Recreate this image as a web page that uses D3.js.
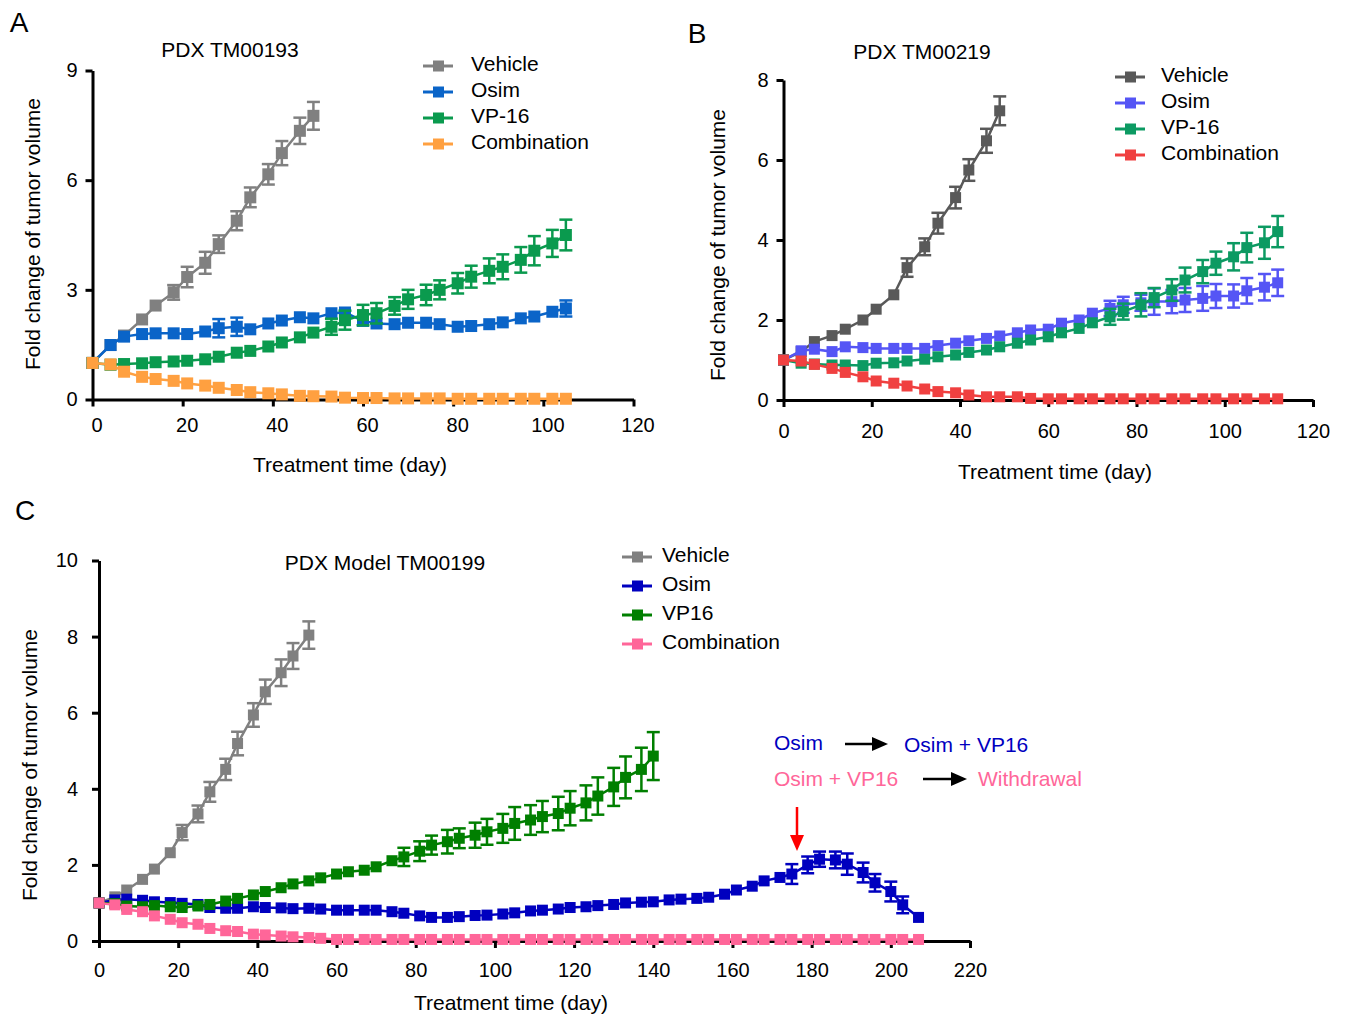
<!DOCTYPE html>
<meta charset="utf-8">
<head>
    <style>
        body { margin: 0; background: #fff; }
        text { font-family: "Liberation Sans", Arial, sans-serif; }
    </style>
</head>

<body>
    <svg id="fig" width="1345" height="1019"></svg>

    <script src="https://d3js.org/d3.v7.min.js"></script>

    <script>
        // measurement days (same schedule for every model)
        let treatmentDays = [0, 4, 7, 11, 14, 18, 21, 25, 28, 32,
            35, 39, 42, 46, 49, 53, 56, 60, 63, 67,
            70, 74, 77, 81, 84, 88, 91, 95, 98, 102,
            105, 109, 112, 116, 119, 123, 126, 130, 133, 137,
            140, 144, 147, 151, 154, 158, 161, 165, 168, 172,
            175, 179, 182, 186, 189, 193, 196, 200, 203, 207];

        let xTicks120 = [0, 20, 40, 60, 80, 100, 120];
        let xTicks220 = [0, 20, 40, 60, 80, 100, 120, 140, 160, 180, 200, 220];

        // ---- Panel A : PDX TM00193 ----
        let namesA = ['Vehicle', 'Osim', 'VP-16', 'Combination'];
        let vehicleA = [1.0, 1.49, 1.75, 2.19, 2.57, 2.93, 3.35, 3.74, 4.25, 4.89, 5.53, 6.16, 6.74, 7.35, 7.76];
        let vehicleAErr = [0, 0.05, 0.05, 0.08, 0.08, 0.2, 0.28, 0.3, 0.24, 0.26, 0.27, 0.28, 0.33, 0.36, 0.38];
        let osimA = [1.0, 1.49, 1.72, 1.79, 1.81, 1.81, 1.79, 1.86, 1.95, 1.99, 1.92, 2.08, 2.16, 2.25, 2.22, 2.36,
            2.38, 2.15, 2.08, 2.06, 2.10, 2.10, 2.06, 1.99, 2.01, 2.06, 2.11, 2.22, 2.27, 2.40, 2.49];
        let osimAErr = [0, 0.05, 0.05, 0.1, 0.08, 0.17, 0.1, 0.12, 0.25, 0.25, 0.12, 0.1, 0.1, 0.1, 0.08, 0.1,
            0.1, 0.12, 0.08, 0.08, 0.08, 0.08, 0.08, 0.08, 0.08, 0.08, 0.08, 0.08, 0.08, 0.15, 0.22];
        let vp16A = [1.0, 0.95, 0.97, 0.99, 1.02, 1.04, 1.06, 1.10, 1.17, 1.28, 1.33, 1.45, 1.56, 1.70, 1.83, 1.99,
            2.17, 2.31, 2.36, 2.56, 2.74, 2.86, 3.00, 3.18, 3.36, 3.52, 3.63, 3.82, 4.07, 4.27, 4.50];
        let vp16AErr = [0, 0.03, 0.03, 0.03, 0.04, 0.04, 0.05, 0.05, 0.06, 0.07, 0.08, 0.08, 0.1, 0.14, 0.16, 0.22,
            0.26, 0.28, 0.28, 0.24, 0.26, 0.28, 0.26, 0.28, 0.3, 0.34, 0.34, 0.35, 0.4, 0.37, 0.42];
        let comboA = [1.0, 0.96, 0.76, 0.62, 0.56, 0.51, 0.44, 0.38, 0.32, 0.26, 0.20, 0.17, 0.14, 0.10, 0.09, 0.08,
            0.05, 0.04, 0.04, 0.03, 0.03, 0.03, 0.03, 0.02, 0.02, 0.02, 0.02, 0.02, 0.02, 0.02, 0.02];

        // ---- Panel B : PDX TM00219 ----
        let namesB = ['Vehicle', 'Osim', 'VP-16', 'Combination'];
        let vehicleB = [1.0, 1.21, 1.46, 1.61, 1.77, 2.0, 2.27, 2.63, 3.31, 3.83, 4.42, 5.06, 5.75, 6.48, 7.23];
        let vehicleBErr = [0, 0.04, 0.05, 0.05, 0.06, 0.07, 0.08, 0.1, 0.23, 0.21, 0.26, 0.27, 0.27, 0.3, 0.36];
        let osimB = [1.0, 1.23, 1.27, 1.21, 1.33, 1.31, 1.29, 1.29, 1.29, 1.29, 1.36, 1.42, 1.48, 1.54, 1.60, 1.68,
            1.75, 1.77, 1.92, 2.0, 2.17, 2.29, 2.38, 2.43, 2.46, 2.46, 2.5, 2.54, 2.6, 2.6, 2.73, 2.82, 2.93];
        let osimBErr = [0, 0.04, 0.04, 0.05, 0.05, 0.05, 0.05, 0.05, 0.06, 0.06, 0.06, 0.07, 0.07, 0.07, 0.08, 0.08,
            0.08, 0.09, 0.1, 0.12, 0.14, 0.19, 0.2, 0.2, 0.33, 0.29, 0.3, 0.31, 0.3, 0.29, 0.32, 0.33, 0.33];
        let vp16B = [1.0, 0.92, 0.90, 0.875, 0.875, 0.86, 0.92, 0.93, 0.975, 1.02, 1.08, 1.125, 1.19, 1.25, 1.33, 1.42,
            1.5, 1.58, 1.68, 1.79, 1.93, 2.08, 2.21, 2.38, 2.56, 2.75, 3.0, 3.21, 3.42, 3.58, 3.81, 3.93, 4.21];
        let vp16BErr = [0, 0.03, 0.03, 0.03, 0.03, 0.04, 0.04, 0.04, 0.05, 0.05, 0.05, 0.05, 0.06, 0.06, 0.06, 0.07,
            0.07, 0.08, 0.08, 0.1, 0.13, 0.2, 0.2, 0.29, 0.24, 0.27, 0.31, 0.29, 0.29, 0.34, 0.37, 0.4, 0.39];
        let comboB = [1.0, 0.975, 0.89, 0.79, 0.69, 0.58, 0.475, 0.42, 0.35, 0.275, 0.21, 0.18, 0.125, 0.08, 0.08, 0.08,
            0.04, 0.03, 0.03, 0.03, 0.03, 0.03, 0.03, 0.03, 0.03, 0.03, 0.03, 0.03, 0.03, 0.03, 0.03, 0.03, 0.03];

        // ---- Panel C : PDX Model TM00199 ----
        let namesC = ['Vehicle', 'Osim', 'VP16', 'Combination'];
        let vehicleC = [1.0, 1.16, 1.34, 1.62, 1.89, 2.32, 2.85, 3.34, 3.92, 4.51, 5.19, 5.94, 6.55, 7.05, 7.49, 8.04];
        let vehicleCErr = [0, 0.04, 0.05, 0.05, 0.06, 0.1, 0.2, 0.22, 0.26, 0.28, 0.31, 0.31, 0.32, 0.35, 0.34, 0.36];
        let osimC = [1.0, 1.08, 1.10, 1.07, 1.03, 1.01, 0.99, 0.96, 0.88, 0.86,
            0.86, 0.90, 0.88, 0.87, 0.85, 0.86, 0.84, 0.81, 0.81, 0.81,
            0.81, 0.77, 0.73, 0.66, 0.62, 0.62, 0.64, 0.67, 0.68, 0.71,
            0.74, 0.79, 0.81, 0.84, 0.88, 0.90, 0.93, 0.96, 1.0, 1.02,
            1.03, 1.08, 1.10, 1.12, 1.15, 1.23, 1.34, 1.44, 1.58, 1.67,
            1.76, 2.0, 2.15, 2.13, 2.02, 1.80, 1.53, 1.30, 0.95, 0.62];
        let osimCErr = [0, 0.03, 0.03, 0.03, 0.03, 0.03, 0.03, 0.03, 0.03, 0.03,
            0.03, 0.03, 0.03, 0.03, 0.03, 0.03, 0.03, 0.03, 0.03, 0.03,
            0.04, 0.04, 0.04, 0.04, 0.04, 0.04, 0.04, 0.04, 0.04, 0.04,
            0.04, 0.04, 0.04, 0.04, 0.04, 0.04, 0.04, 0.04, 0.05, 0.05,
            0.05, 0.05, 0.05, 0.05, 0.06, 0.06, 0.07, 0.08, 0.08, 0.1,
            0.26, 0.22, 0.2, 0.22, 0.28, 0.26, 0.23, 0.26, 0.22, 0.06];
        let vp16C = [1.0, 0.98, 0.92, 0.90, 0.93, 0.90, 0.88, 0.92, 0.96, 1.05,
            1.12, 1.21, 1.30, 1.40, 1.50, 1.58, 1.66, 1.76, 1.82, 1.86,
            1.95, 2.11, 2.21, 2.36, 2.52, 2.61, 2.70, 2.78, 2.87, 2.96,
            3.09, 3.18, 3.27, 3.35, 3.49, 3.63, 3.81, 4.05, 4.30, 4.51, 4.86];
        let vp16CErr = [0, 0.02, 0.02, 0.03, 0.03, 0.03, 0.03, 0.04, 0.04, 0.05,
            0.05, 0.05, 0.06, 0.06, 0.07, 0.07, 0.08, 0.08, 0.08, 0.09,
            0.1, 0.12, 0.24, 0.26, 0.25, 0.31, 0.26, 0.33, 0.34, 0.38,
            0.43, 0.39, 0.41, 0.44, 0.45, 0.46, 0.49, 0.5, 0.55, 0.57, 0.63];
        let comboC = [1.0, 0.95, 0.83, 0.77, 0.66, 0.57, 0.48, 0.44, 0.33, 0.27,
            0.25, 0.18, 0.16, 0.13, 0.11, 0.09, 0.07, 0.04, 0.04, 0.04,
            0.04, 0.04, 0.04, 0.04, 0.04, 0.04, 0.04, 0.04, 0.04, 0.04,
            0.04, 0.04, 0.04, 0.04, 0.04, 0.04, 0.04, 0.04, 0.04, 0.04,
            0.04, 0.04, 0.04, 0.04, 0.04, 0.04, 0.04, 0.04, 0.04, 0.04,
            0.04, 0.04, 0.04, 0.04, 0.04, 0.04, 0.04, 0.04, 0.04, 0.04];

        let svg = d3.select('#fig');

        // Draw one panel
        function drawPanel(p) {
            let g = svg.append('g');
            let x = d3.scaleLinear().domain(p.xDomain).range(p.xRange);
            let y = d3.scaleLinear().domain(p.yDomain).range(p.yRange);
            let m = p.marker;

            // axes
            let xAxis = g.append('g')
                .attr('transform', `translate(0, ${p.yRange[0]})`)
                .call(d3.axisBottom(x).tickValues(p.xTicks).tickSize(7).tickPadding(p.xPad).tickSizeOuter(0));
            let yAxis = g.append('g')
                .attr('transform', `translate(${p.xRange[0]}, 0)`)
                .call(d3.axisLeft(y).tickValues(p.yTicks).tickSize(7).tickPadding(p.yPad).tickSizeOuter(0));
            [xAxis, yAxis].forEach(a => {
                a.attr('font-size', 20).attr('font-family', '"Liberation Sans", Arial, sans-serif');
                a.select('.domain').attr('stroke-width', 3);
                a.selectAll('.tick line').attr('stroke-width', 3);
                a.selectAll('.tick text').attr('fill', '#000');
            });
            xAxis.selectAll('.tick text').attr('dx', p.xLabelDx);

            // series
            p.series.forEach(s => {
                let pts = s.values.map((v, i) => ({ day: treatmentDays[i], v: v, e: s.err ? s.err[i] : 0 }));
                g.append('path')
                    .datum(pts)
                    .attr('d', d3.line().x(d => x(d.day)).y(d => y(d.v)))
                    .attr('fill', 'none')
                    .attr('stroke', s.color)
                    .attr('stroke-width', 2.5);

                let bars = g.selectAll(null)
                    .data(pts.filter(d => y(d.v) - y(d.v + d.e) > m / 2 + 1))
                    .enter().append('g')
                    .attr('stroke', s.color)
                    .attr('stroke-width', 2.5);
                bars.append('line')
                    .attr('x1', d => x(d.day)).attr('x2', d => x(d.day))
                    .attr('y1', d => y(d.v + d.e)).attr('y2', d => y(d.v - d.e));
                bars.append('line')
                    .attr('x1', d => x(d.day) - 6.5).attr('x2', d => x(d.day) + 6.5)
                    .attr('y1', d => y(d.v + d.e)).attr('y2', d => y(d.v + d.e));
                bars.append('line')
                    .attr('x1', d => x(d.day) - 6.5).attr('x2', d => x(d.day) + 6.5)
                    .attr('y1', d => y(d.v - d.e)).attr('y2', d => y(d.v - d.e));

                g.selectAll(null)
                    .data(pts)
                    .enter().append('rect')
                    .attr('x', d => x(d.day) - m / 2)
                    .attr('y', d => y(d.v) - m / 2)
                    .attr('width', m)
                    .attr('height', m)
                    .attr('fill', s.color);
            });

            // legend
            p.series.forEach((s, i) => {
                let ly = p.legend.y + i * p.legend.step;
                g.append('line')
                    .attr('x1', p.legend.x).attr('x2', p.legend.x + 30)
                    .attr('y1', ly).attr('y2', ly)
                    .attr('stroke', s.color).attr('stroke-width', 3);
                g.append('rect')
                    .attr('x', p.legend.x + 10).attr('y', ly - 5.5)
                    .attr('width', 11).attr('height', 11)
                    .attr('fill', s.color);
                g.append('text')
                    .attr('x', p.legend.x + p.legend.textDx).attr('y', ly - 2)
                    .attr('dy', '0.35em')
                    .attr('font-size', 21)
                    .text(s.name);
            });

            // titles
            g.append('text')
                .attr('x', p.title.x).attr('y', p.title.y)
                .attr('text-anchor', 'middle').attr('dy', '0.35em')
                .attr('font-size', 21)
                .text(p.title.text);
            g.append('text')
                .attr('x', p.xTitle.x).attr('y', p.xTitle.y)
                .attr('text-anchor', 'middle').attr('dy', '0.35em')
                .attr('font-size', 21)
                .text('Treatment time (day)');
            g.append('text')
                .attr('transform', `translate(${p.yTitle.x}, ${p.yTitle.y}) rotate(-90)`)
                .attr('text-anchor', 'middle').attr('dy', '0.35em')
                .attr('font-size', 21)
                .text('Fold change of tumor volume');
            g.append('text')
                .attr('x', p.letter.x).attr('y', p.letter.y)
                .attr('text-anchor', 'middle').attr('dy', '0.35em')
                .attr('font-size', 28)
                .text(p.letter.text);

            return { x: x, y: y, g: g };
        }

        drawPanel({
            xDomain: [0, 120], xRange: [92.5, 633.5], xTicks: xTicks120, xPad: 11, xLabelDx: 4,
            yDomain: [0, 9], yRange: [399.5, 70.5], yTicks: [0, 3, 6, 9], yPad: 8,
            marker: 12,
            series: [
                { name: namesA[0], values: vehicleA, err: vehicleAErr, color: '#808080' },
                { name: namesA[1], values: osimA, err: osimAErr, color: '#0a64c8' },
                { name: namesA[2], values: vp16A, err: vp16AErr, color: '#0a9a4e' },
                { name: namesA[3], values: comboA, err: null, color: '#ffa040' }
            ],
            legend: { x: 423, y: 66, step: 26, textDx: 48 },
            title: { x: 230, y: 50, text: 'PDX TM00193' },
            xTitle: { x: 350, y: 465 },
            yTitle: { x: 33, y: 234 },
            letter: { x: 19, y: 22, text: 'A' }
        });

        drawPanel({
            xDomain: [0, 120], xRange: [783.5, 1313], xTicks: xTicks120, xPad: 17, xLabelDx: 0,
            yDomain: [0, 8], yRange: [400, 80], yTicks: [0, 2, 4, 6, 8], yPad: 8,
            marker: 11,
            series: [
                { name: namesB[0], values: vehicleB, err: vehicleBErr, color: '#595959' },
                { name: namesB[1], values: osimB, err: osimBErr, color: '#5555f5' },
                { name: namesB[2], values: vp16B, err: vp16BErr, color: '#0c9a62' },
                { name: namesB[3], values: comboB, err: null, color: '#f04040' }
            ],
            legend: { x: 1115, y: 77, step: 26, textDx: 46 },
            title: { x: 922, y: 52, text: 'PDX TM00219' },
            xTitle: { x: 1055, y: 472 },
            yTitle: { x: 718, y: 245 },
            letter: { x: 697, y: 33, text: 'B' }
        });

        let panelC = drawPanel({
            xDomain: [0, 220], xRange: [99, 970], xTicks: xTicks220, xPad: 15, xLabelDx: 0,
            yDomain: [0, 10], yRange: [941, 560.5], yTicks: [0, 2, 4, 6, 8, 10], yPad: 14,
            marker: 11,
            series: [
                { name: namesC[0], values: vehicleC, err: vehicleCErr, color: '#808080' },
                { name: namesC[1], values: osimC, err: osimCErr, color: '#0000bf' },
                { name: namesC[2], values: vp16C, err: vp16CErr, color: '#007f00' },
                { name: namesC[3], values: comboC, err: null, color: '#ff6699' }
            ],
            legend: { x: 622, y: 557, step: 29, textDx: 40 },
            title: { x: 385, y: 563, text: 'PDX Model TM00199' },
            xTitle: { x: 511, y: 1003 },
            yTitle: { x: 30, y: 765 },
            letter: { x: 25, y: 510, text: 'C' }
        });

        // annotations on panel C
        let ann = panelC.g;
        function arrow(x1, y1, x2, y2, color, head) {
            let len = Math.hypot(x2 - x1, y2 - y1);
            let ux = (x2 - x1) / len, uy = (y2 - y1) / len;
            let bx = x2 - ux * head, by = y2 - uy * head;
            ann.append('line')
                .attr('x1', x1).attr('y1', y1).attr('x2', bx).attr('y2', by)
                .attr('stroke', color).attr('stroke-width', 2.5);
            ann.append('path')
                .attr('d', `M${x2},${y2}L${bx - uy * 7},${by + ux * 7}L${bx + uy * 7},${by - ux * 7}Z`)
                .attr('fill', color);
        }
        ann.append('text').attr('x', 774).attr('y', 743).attr('dy', '0.35em')
            .attr('font-size', 21).attr('fill', '#0000bf').text('Osim');
        arrow(845, 744, 888, 744, '#000', 16);
        ann.append('text').attr('x', 904).attr('y', 745).attr('dy', '0.35em')
            .attr('font-size', 21).attr('fill', '#0000bf').text('Osim + VP16');
        ann.append('text').attr('x', 774).attr('y', 779).attr('dy', '0.35em')
            .attr('font-size', 21).attr('fill', '#ff6699').text('Osim + VP16');
        arrow(923, 779, 967, 779, '#000', 16);
        ann.append('text').attr('x', 978).attr('y', 779).attr('dy', '0.35em')
            .attr('font-size', 21).attr('fill', '#ff6699').text('Withdrawal');
        arrow(797, 807, 797, 851, '#ff0000', 16);
    </script>
</body>
